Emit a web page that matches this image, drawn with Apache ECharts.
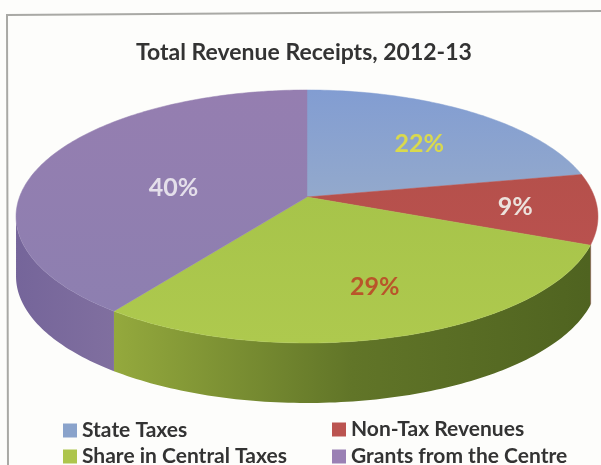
<!DOCTYPE html>
<html><head><meta charset="utf-8">
<style>html,body{margin:0;padding:0;background:#fdfdfb}#c{width:601px;height:465px}</style>
<script src="https://cdn.jsdelivr.net/npm/echarts@6/dist/echarts.min.js"></script>
</head><body><div id="c"></div>
<script>
const titleText = 'Total Revenue Receipts, 2012-13';
const categories = ['State Taxes', 'Non-Tax Revenues', 'Share in Central Taxes', 'Grants from the Centre'];
const values = [22, 9, 29, 40];
const legendColors = ['#8aa3cb', '#bb5450', '#adc54c', '#9a80b4'];
const labelColors = ['#d9d94e', '#ece2dc', '#b9552a', '#e4dfea'];
const labelRadius = [0.66, 0.72, 0.75, 0.5];
const labelShiftY = [5, 1, -10, 10];
const topFills = [
  ['#829dd2', '#93a9cc'],
  ['#b5504b', '#b9514e'],
  ['#a7c44a', '#aec94e'],
  ['#957eb0', '#8d7fb0']
];
const sideFills = [
  ['#6d83a8', '#6d83a8'],
  ['#7c3633', '#7c3633'],
  ['#94a93d', '#617528', '#4f6320'],
  ['#75659a', '#806f9f']
];
const legendLeft = [63, 332, 63, 332];
const legendTop = [420, 419, 446, 446];

const cx = 307, cy = 197, rx = 287.5, ry = 123.5, k = 0.154, depth = 60;
const total = values.reduce((a, b) => a + b, 0);
const silhouette = [111, 261];

function project(deg, r) {
  const t = deg * Math.PI / 180;
  const u = r * Math.sin(t), v = -r * Math.cos(t), w = 1 - k * v;
  return [cx + rx * u / w, cy + ry * v / w];
}
function arc(a, b) {
  const pts = [], n = Math.max(2, Math.ceil(Math.abs(b - a)));
  for (let i = 0; i <= n; i++) pts.push(project(a + (b - a) * i / n, 1));
  return pts;
}
function grad(c, horizontal) {
  return { type: 'linear', x: 0, y: 0, x2: horizontal ? 1 : 0, y2: horizontal ? 0 : 1,
    colorStops: c.map((color, j) => ({ offset: j / (c.length - 1), color: color })) };
}
function renderSlice(i) {
  return function (params, api) {
    const before = values.slice(0, i).reduce((a, b) => a + b, 0);
    const a0 = before / total * 360, a1 = (before + api.value(0)) / total * 360;
    const children = [];
    const s0 = Math.max(a0, silhouette[0]), s1 = Math.min(a1, silhouette[1]);
    if (s1 > s0) {
      const upper = arc(s0, s1);
      const lower = upper.map(p => [p[0], p[1] + depth]).reverse();
      children.push({ type: 'polygon', z2: 1, shape: { points: upper.concat(lower) },
        style: { fill: grad(sideFills[i], true) } });
    }
    const fill = grad(topFills[i], false);
    children.push({ type: 'polygon', z2: 5, shape: { points: [[cx, cy]].concat(arc(a0, a1)) },
      style: { fill: fill, stroke: fill, lineWidth: 0.5 } });
    const mid = project((a0 + a1) / 2, labelRadius[i]);
    children.push({ type: 'text', z2: 10, x: mid[0], y: mid[1] + labelShiftY[i],
      style: { text: Math.round(api.value(0) / total * 100) + '%', fill: labelColors[i],
        font: 'bold 25px Lato', align: 'center', verticalAlign: 'middle' } });
    return { type: 'group', children: children };
  };
}
const legendText = { fontFamily: 'Lato', fontWeight: 'bold', fontSize: 21, color: '#333333' };
const chart = echarts.init(document.getElementById('c'), null, { renderer: 'canvas' });
chart.setOption({
  animation: false,
  backgroundColor: '#fdfdfb',
  title: { text: titleText, left: 131, top: 36,
    textStyle: { fontFamily: 'Lato', fontWeight: 'bold', fontSize: 23, color: '#333333' } },
  legend: categories.map((name, i) => ({
    data: [name], left: legendLeft[i], top: legendTop[i], padding: 0,
    icon: 'rect', itemWidth: 14, itemHeight: 14, textStyle: legendText
  })),
  graphic: [{ type: 'polyline', silent: true, shape: { points: [[8, 465], [7, 15], [601, 11]] },
    style: { stroke: '#a9a9a5', lineWidth: 2, fill: null } }],
  series: categories.map((name, i) => ({
    type: 'custom', name: name, coordinateSystem: 'none',
    itemStyle: { color: legendColors[i] },
    data: [[values[i]]],
    renderItem: renderSlice(i)
  }))
});
</script></body></html>
